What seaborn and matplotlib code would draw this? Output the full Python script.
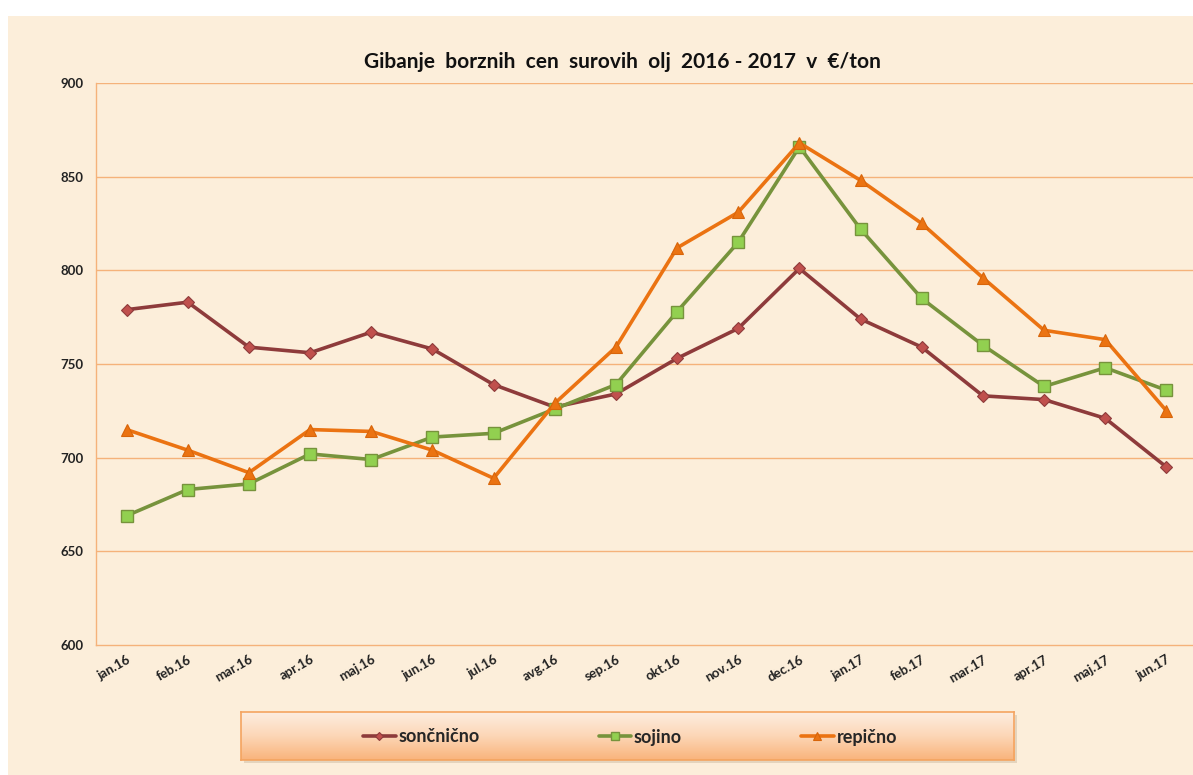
import numpy as np
import pandas as pd
import matplotlib
matplotlib.use("Agg")
import matplotlib.pyplot as plt
from matplotlib.patches import Rectangle
from matplotlib.colors import LinearSegmentedColormap
import seaborn as sns

# ---- data ----
months = ["jan.16", "feb.16", "mar.16", "apr.16", "maj.16", "jun.16", "jul.16", "avg.16",
          "sep.16", "okt.16", "nov.16", "dec.16", "jan.17", "feb.17", "mar.17", "apr.17",
          "maj.17", "jun.17"]
soncnicno = [779, 783, 759, 756, 767, 758, 739, 727, 734, 753, 769, 801, 774, 759, 733, 731, 721, 695]
sojino = [669, 683, 686, 702, 699, 711, 713, 726, 739, 778, 815, 866, 822, 785, 760, 738, 748, 736]
repicno = [715, 704, 692, 715, 714, 704, 689, 729, 759, 812, 831, 868, 848, 825, 796, 768, 763, 725]
series_names = ["sončnično", "sojino", "repično"]
y_ticks = [600, 650, 700, 750, 800, 850, 900]
title = "Gibanje  borznih  cen  surovih  olj  2016 - 2017  v  €/ton"

sns.set_theme(style="white")
plt.rcParams["font.family"] = ["Lato", "DejaVu Sans"]

W, H = 1193, 775
fig = plt.figure(figsize=(W / 100, H / 100), dpi=100)
fig.patch.set_facecolor("white")

bg_col = "#FCEEDA"
fig.patches.append(Rectangle((8 / W, 0), 1, 1 - 16 / H, transform=fig.transFigure,
                             facecolor=bg_col, edgecolor="none", zorder=-10))

ax = fig.add_axes([96 / W, 1 - 645 / H, 1101 / W, (645 - 83) / H])
ax.set_facecolor("none")

x = np.arange(len(months))
df = pd.DataFrame({"x": x, "s": soncnicno, "so": sojino, "r": repicno})

grid_col = "#F5B27A"
line_red, face_red = "#8E3B3B", "#C0504D"
line_green, face_green = "#77933C", "#92D050"
line_orange = "#EB7312"

sns.lineplot(data=df, x="x", y="s", ax=ax, color=line_red, linewidth=2.6, marker="D",
             markersize=6.5, markerfacecolor=face_red, markeredgecolor=line_red,
             markeredgewidth=0.8, label=series_names[0], zorder=3)
sns.lineplot(data=df, x="x", y="so", ax=ax, color=line_green, linewidth=2.6, marker="s",
             markersize=8.5, markerfacecolor=face_green, markeredgecolor=line_green,
             markeredgewidth=1.0, label=series_names[1], zorder=4)
sns.lineplot(data=df, x="x", y="r", ax=ax, color=line_orange, linewidth=2.6, marker="^",
             markersize=8.5, markerfacecolor=line_orange, markeredgecolor="#D8650A",
             markeredgewidth=0.8, label=series_names[2], zorder=5)

ax.set_xlim(-0.5, len(months) - 0.5)
ax.set_ylim(600, 900)
ax.set_yticks(y_ticks)
ax.set_yticklabels([str(v) for v in y_ticks], fontsize=9.5, fontweight="bold", color="#222222")
ax.set_xticks(x)
ax.set_xticklabels(months, rotation=30, ha="right", rotation_mode="anchor",
                   fontsize=9.5, fontweight="bold", color="#222222")
ax.set_xticks(np.arange(-0.5, len(months), 1.0), minor=True)
ax.tick_params(axis="x", which="major", length=0, pad=6)
ax.tick_params(axis="x", which="minor", length=5, color=grid_col, width=1, direction="out")
ax.tick_params(axis="y", length=5, color=grid_col, width=1, direction="out", pad=4)
ax.set_xlabel("")
ax.set_ylabel("")

for yv in y_ticks[1:]:
    ax.axhline(yv, color=grid_col, linewidth=1.0, zorder=1)
for side in ["top", "right"]:
    ax.spines[side].set_visible(False)
for side in ["left", "bottom"]:
    ax.spines[side].set_color(grid_col)
    ax.spines[side].set_linewidth(1.0)

fig.text(622 / W, 1 - 62 / H, title, ha="center", va="center", fontsize=15,
         fontweight="bold", color="#111111")

# legend box with gradient
lx0, ly0, lx1, ly1 = 241, 712, 1014, 760
shadow = Rectangle(((lx0 + 3) / W, 1 - (ly1 + 3) / H), (lx1 - lx0) / W, (ly1 - ly0) / H,
                   transform=fig.transFigure, facecolor="#cdbba2", edgecolor="none",
                   alpha=0.5, zorder=1)
fig.patches.append(shadow)
lax = fig.add_axes([lx0 / W, 1 - ly1 / H, (lx1 - lx0) / W, (ly1 - ly0) / H], zorder=2)
grad = np.linspace(0, 1, 64).reshape(-1, 1)
cmap = LinearSegmentedColormap.from_list("g", ["#FDEDE0", "#FCD6B6", "#F9B47C"])
lax.imshow(grad, aspect="auto", cmap=cmap, extent=[0, 1, 0, 1], origin="upper")
lax.set_xticks([])
lax.set_yticks([])
for sp in lax.spines.values():
    sp.set_color("#F4A460")
    sp.set_linewidth(1.2)

handles, labels = ax.get_legend_handles_labels()
ax.get_legend().remove()
leg = fig.legend(handles, labels, loc="center", bbox_to_anchor=(630 / W, 1 - 737 / H),
                 ncol=3, frameon=False, prop={"family": ["Lato", "DejaVu Sans"],
                                               "weight": "bold", "size": 13},
                 handlelength=1.8, handletextpad=0.15, columnspacing=6.6, markerscale=0.6)
leg.set_zorder(10)

fig.savefig("out.png", dpi=100, facecolor=fig.get_facecolor())
